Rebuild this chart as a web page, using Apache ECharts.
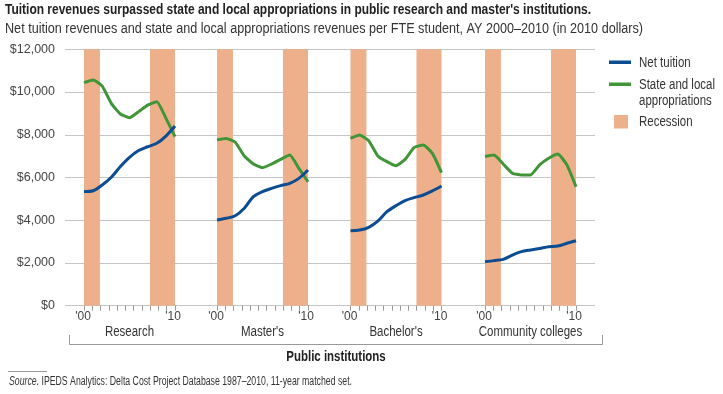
<!DOCTYPE html>
<html><head><meta charset="utf-8">
<script src="https://cdn.jsdelivr.net/npm/echarts@6/dist/echarts.min.js"></script>
<style>html,body{margin:0;padding:0;background:#fff}#c{width:723px;height:394px}</style>
</head><body><div id="c"></div>
<script>
const years = ['2000','2001','2002','2003','2004','2005','2006','2007','2008','2009','2010'];
const panelNames = ['Research', "Master's", "Bachelor's", 'Community colleges'];
const yTicks = [0, 2000, 4000, 6000, 8000, 10000, 12000];
const recessionBands = [[0, 1.75], [7.25, 10]];

const researchNetTuition = [5340, 5380, 5650, 6010, 6510, 6940, 7260, 7440, 7600, 7940, 8410];
const researchStateLocal = [10440, 10560, 10280, 9470, 8970, 8800, 9080, 9390, 9550, 8780, 7910];
const mastersNetTuition = [4010, 4090, 4210, 4560, 5100, 5340, 5490, 5620, 5730, 5960, 6350];
const mastersStateLocal = [7760, 7830, 7650, 7010, 6630, 6460, 6630, 6850, 7050, 6430, 5800];
const bachelorsNetTuition = [3510, 3540, 3670, 3960, 4400, 4680, 4920, 5060, 5180, 5370, 5600];
const bachelorsStateLocal = [7830, 7990, 7720, 7010, 6740, 6550, 6850, 7410, 7520, 7130, 6230];
const communityNetTuition = [2060, 2110, 2170, 2370, 2530, 2610, 2680, 2760, 2790, 2920, 3040];
const communityStateLocal = [6980, 7050, 6630, 6200, 6120, 6120, 6590, 6900, 7100, 6590, 5570];

const netTuitionSets = [researchNetTuition, mastersNetTuition, bachelorsNetTuition, communityNetTuition];
const stateLocalSets = [researchStateLocal, mastersStateLocal, bachelorsStateLocal, communityStateLocal];

const BLUE = '#0b4c92', GREEN = '#3f9537', PEACH = '#eeb08a', GRID = '#c4c4c4';
const SANS = "'Liberation Sans', Arial, sans-serif";
const NARROW = 0.82; // horizontal condensing to mimic a narrow face

const TOP = 49.3, BOTTOM = 394 - 305.7;
const panelLefts = [84, 217, 350.5, 485];
const panelWidth = 91;

const measureCtx = document.createElement('canvas').getContext('2d');
function textWidth(text, size, weight) {
  measureCtx.font = (weight || 'normal') + ' ' + size + 'px ' + SANS;
  return measureCtx.measureText(text).width;
}
// narrow text element (left/center anchored)
function ntext(text, x, y, size, opts) {
  opts = opts || {};
  let sx = NARROW;
  if (opts.fitWidth) sx = opts.fitWidth / textWidth(opts.measure || text, size, opts.weight);
  return {
    type: 'text', x: x, y: y, scaleX: sx, z: 10,
    style: Object.assign({
      text: text, x: 0, y: 0, fontFamily: SANS, fontSize: size,
      fontWeight: opts.weight || 'normal', fill: opts.fill || '#333',
      align: opts.align || 'left', verticalAlign: 'middle'
    }, opts.style || {})
  };
}

const grid = [{left: 65, right: 723 - 595, top: TOP, bottom: BOTTOM}];
const xAxis = [{gridIndex: 0, type: 'value', min: 0, max: 1, show: false}];
const yAxis = [{
  gridIndex: 0, type: 'value', min: yTicks[0], max: yTicks[yTicks.length - 1], interval: 2000,
  axisLine: {show: false}, axisTick: {show: false},
  splitLine: {show: true, lineStyle: {color: GRID, width: 1}},
  axisLabel: {margin: 10, color: '#444', fontFamily: SANS, fontSize: 12.5,
    formatter: v => '$' + v.toLocaleString('en-US')}
}];
const series = [];
const graphics = [];

panelNames.forEach((name, p) => {
  const g = p + 1;
  grid.push({left: panelLefts[p], width: panelWidth, top: TOP, bottom: BOTTOM});
  xAxis.push({gridIndex: g, type: 'value', min: 0, max: years.length - 1, show: false});
  xAxis.push({
    gridIndex: g, type: 'value', min: 0, max: 11, interval: 1, position: 'bottom',
    axisLine: {show: true, lineStyle: {color: GRID}},
    axisTick: {show: true, length: 5, lineStyle: {color: '#999'}},
    splitLine: {show: false},
    axisLabel: {show: true, margin: 5, color: '#444', fontFamily: SANS, fontSize: 12,
      customValues: [0, 11],
      formatter: v => v === 0 ? "{a|'00}" : "{b|'10}",
      rich: {a: {padding: [0, 2, 0, 0], fontSize: 12, fontFamily: SANS, color: '#444'},
             b: {padding: [0, 4, 0, 0], fontSize: 12, fontFamily: SANS, color: '#444'}}}
  });
  yAxis.push({gridIndex: g, type: 'value', min: 0, max: 12000, show: false});
  const dataAxis = 1 + p * 2;
  series.push({
    type: 'line', name: 'Recession', xAxisIndex: dataAxis, yAxisIndex: g, data: [],
    silent: true,
    markArea: {silent: true, itemStyle: {color: PEACH, opacity: 1},
      data: recessionBands.map(b => [{xAxis: b[0], yAxis: 0}, {xAxis: b[1], yAxis: 12000}])}
  });
  series.push({
    type: 'line', name: 'State and local appropriations', xAxisIndex: dataAxis, yAxisIndex: g,
    data: stateLocalSets[p].map((v, i) => [i, v]), showSymbol: false, symbol: 'none',
    smooth: 0.15, lineStyle: {color: GREEN, width: 3}, itemStyle: {color: GREEN}, z: 3
  });
  series.push({
    type: 'line', name: 'Net tuition', xAxisIndex: dataAxis, yAxisIndex: g,
    data: netTuitionSets[p].map((v, i) => [i, v]), showSymbol: false, symbol: 'none',
    smooth: 0.3, lineStyle: {color: BLUE, width: 3}, itemStyle: {color: BLUE}, z: 4
  });
  graphics.push(ntext(name, panelLefts[p] + panelWidth / 2, 332, 14, {align: 'center'}));
});

const titleText = "Tuition revenues surpassed state and local appropriations in public research and master's institutions.";
const subText = 'Net tuition revenues and state and local appropriations revenues per FTE student, AY 2000–2010 (in 2010 dollars)';
const srcPlain = 'Source. IPEDS Analytics: Delta Cost Project Database 1987–2010, 11-year matched set.';

graphics.push(
  ntext(titleText, 5, 10.5, 14, {weight: 'bold', fill: '#222', fitWidth: 586}),
  ntext(subText, 5, 29, 14, {fill: '#333', fitWidth: 638}),
  {type: 'rect', shape: {x: 609, y: 60.5, width: 22, height: 3.5}, style: {fill: BLUE}},
  ntext('Net tuition', 639, 63, 14),
  {type: 'rect', shape: {x: 609, y: 82.5, width: 22, height: 3.5}, style: {fill: GREEN}},
  ntext('State and local', 639, 85, 14),
  ntext('appropriations', 639, 101, 14),
  {type: 'rect', shape: {x: 614, y: 115, width: 14, height: 13.5}, style: {fill: PEACH}},
  ntext('Recession', 639, 122, 14),
  {type: 'polyline', shape: {points: [[69.5, 335], [69.5, 344.5], [602.5, 344.5], [602.5, 335]]},
    style: {stroke: '#999', lineWidth: 1, fill: null}},
  ntext('Public institutions', 336, 357, 14, {align: 'center', weight: 'bold', fill: '#222'}),
  {type: 'line', shape: {x1: 8, y1: 371.5, x2: 47, y2: 371.5}, style: {stroke: '#999', lineWidth: 1}},
  ntext('{i|Source.} IPEDS Analytics: Delta Cost Project Database 1987–2010, 11-year matched set.', 9, 382, 12,
    {fitWidth: 343, measure: srcPlain,
     style: {rich: {i: {fontStyle: 'italic', fontFamily: SANS, fontSize: 12, fill: '#333'}}}})
);

const chart = echarts.init(document.getElementById('c'), null, {renderer: 'canvas'});
chart.setOption({
  animation: false,
  backgroundColor: '#fff',
  grid, xAxis, yAxis, series,
  graphic: graphics
});
</script></body></html>
